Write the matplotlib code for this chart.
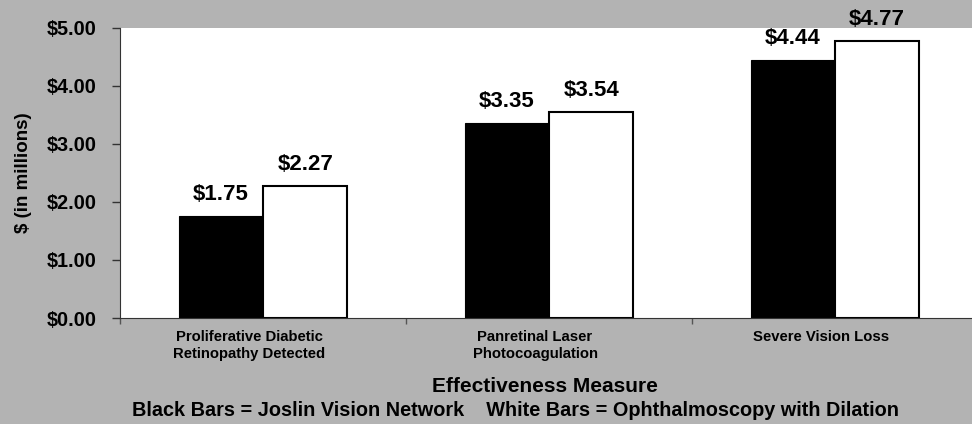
"""Cost per outcome bar chart: Joslin Vision Network vs ophthalmoscopy."""
import matplotlib
matplotlib.use("Agg")
import matplotlib.pyplot as plt
import matplotlib.transforms as mtransforms
import numpy as np

categories = ["Proliferative Diabetic\nRetinopathy Detected",
              "Panretinal Laser\nPhotocoagulation",
              "Severe Vision Loss"]
jvn_cost = [1.75, 3.35, 4.44]          # black bars
ophth_cost = [2.27, 3.54, 4.77]        # white bars
yticks = [0.0, 1.0, 2.0, 3.0, 4.0, 5.0]

plt.rcParams["font.family"] = ["Liberation Sans", "DejaVu Sans"]
plt.rcParams["font.weight"] = "bold"

BG = "#b3b3b3"
fig = plt.figure(figsize=(9.72, 4.24), dpi=100, facecolor=BG)
ax = fig.add_axes([120 / 972, 106 / 424, 858 / 972, 290.5 / 424])
ax.set_facecolor("white")

x = np.arange(len(categories))
w = 0.295
b1 = ax.bar(x - w / 2, jvn_cost, w, color="black", edgecolor="black", linewidth=0.8)
b2 = ax.bar(x + w / 2, ophth_cost, w, color="white", edgecolor="black", linewidth=1.5)

for bars, vals in ((b1, jvn_cost), (b2, ophth_cost)):
    for r, v in zip(bars, vals):
        ax.annotate(f"${v:.2f}", (r.get_x() + r.get_width() / 2, v),
                    xytext=(0, 8), textcoords="offset points",
                    ha="center", va="bottom", fontsize=16, fontweight="bold",
                    annotation_clip=False)

ax.set_xlim(-0.5, len(categories) - 0.5)
ax.set_ylim(0, 5)
ax.set_yticks(yticks)
ax.set_yticklabels([f"${t:.2f}" for t in yticks], fontsize=14.3, fontweight="bold")
ax.tick_params(axis="y", direction="out", length=6, width=1, color="#333333", pad=11)

# category names sit between the group boundaries; ticks mark the boundaries
ax.set_xticks(np.arange(len(categories) + 1) - 0.5)
ax.set_xticklabels([])
ax.tick_params(axis="x", direction="out", length=4, width=1, color="#555555")
shift = mtransforms.ScaledTranslation(-14 / 100, 0, fig.dpi_scale_trans)
for i, name in enumerate(categories):
    ax.text(i, -0.2, name, transform=ax.transData + shift,
            ha="center", va="top", fontsize=10.7, fontweight="bold",
            linespacing=1.35)

for s in ("top", "right"):
    ax.spines[s].set_visible(False)
ax.spines["left"].set_color("#333333")
ax.spines["bottom"].set_color("#333333")

ax.set_ylabel("$ (in millions)", fontsize=13.5, fontweight="bold")
ax.yaxis.set_label_coords(-0.102, 0.5)

fig.text(545 / 972, 1 - 386 / 424, "Effectiveness Measure", ha="center", va="center",
         fontsize=15, fontweight="bold")
fig.text(515 / 972, 1 - 411 / 424,
         "Black Bars = Joslin Vision Network    White Bars = Ophthalmoscopy with Dilation",
         ha="center", va="center", fontsize=14.3, fontweight="bold")

fig.savefig("out.png", dpi=100, facecolor=BG)
